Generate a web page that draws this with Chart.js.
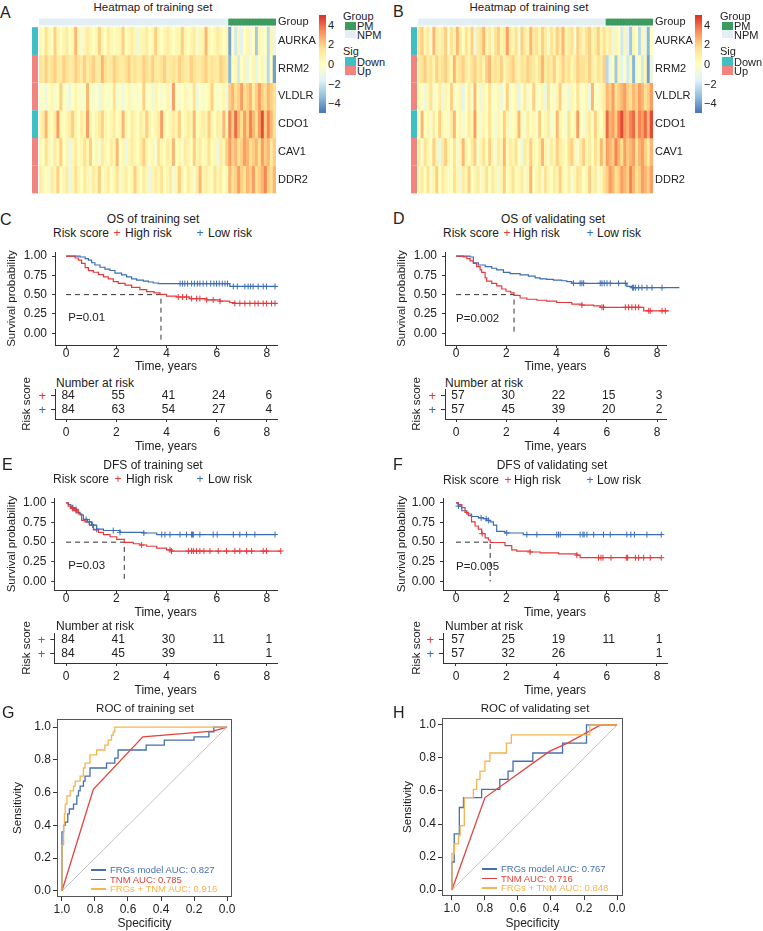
<!DOCTYPE html>
<html>
<head>
<meta charset="utf-8">
<title>Heatmaps, survival curves and ROC curves</title>
<script src="https://cdn.jsdelivr.net/npm/chart.js@4.4.1/dist/chart.umd.min.js"></script>
<style>
  body { margin: 0; background: #fff; }
  #fig { position: relative; width: 763px; height: 931px; overflow: hidden;
         font-family: 'Liberation Sans', Arial, Helvetica, sans-serif; color: #222; }
  #fig canvas { position: absolute; }
  .t { position: absolute; white-space: nowrap; font-size: 12px; line-height: 14px; }
  .sw { position: absolute; }
</style>
</head>
<body>
<div id="fig"></div>
<script>
// ---------- heatmap values: 64 NPM samples followed by 16 PM samples ----------
const genes = ['AURKA', 'RRM2', 'VLDLR', 'CDO1', 'CAV1', 'DDR2'];
const geneSig = ['Down', 'Up', 'Up', 'Down', 'Up', 'Up'];
const npmCount = 64;
const colorbarTicks = [4, 2, 0, -2, -4];

const heatA_AURKA = [.5,0,1.5,.5,0,2,.5,0, .5,1,0,.5,2.5,.5,-.5,.5, 1,.5,0,.5,2,.5,0,1, .5,0,.5,.5,2,0,.5,1,
  .5,-1,.5,.5,1,0,.5,2, .5,0,.5,1,.5,0,.5,.5, 2,.5,0,.5,1,-.5,.5,.5, 2.5,.5,0,.5,1,.5,0,.5,
  -4,0,-2,.5,-1.5,0,.5,-1, 0,-3,.5,-.5,0,-2.5,.5,-1];
const heatA_RRM2 = [1.5,1,2,1,1.5,2,1,1, 2,1.5,1,1,2,1.5,1,2, 1,1.5,2,1,1,2.5,1.5,1, 1,2,1.5,1,1,1.5,2,1,
  1.5,1,1,2,1.5,1,2,1, 1,1.5,2,1,1,1.5,1,2, 1.5,1,1,2,1.5,1,1,1.5, 2,1,1.5,1,1,2,1.5,1,
  -3.5,0,.5,-2,0,.5,-1,0, .5,-1.5,0,.5,-.5,-2.5,0,-4];
const heatA_VLDLR = [-.5,0,-1,0,.5,-.5,0,2, 0,-.5,-1,0,.5,0,-.5,0, 2.5,0,-.5,0,-1,.5,0,-.5, 0,1.5,-.5,0,-1,0,.5,-.5,
  0,-.5,0,2,-.5,0,-1,.5, 0,-.5,0,.5,-1,3,0,-.5, 0,.5,-.5,0,1.5,-1,0,-.5, 0,.5,2,0,-.5,0,.5,-1,
  2,2.5,1.5,2,3,1.5,2,2.5, 1,2,3,2,1.5,2.5,2,1.5];
const heatA_CDO1 = [.5,1,2.5,.5,0,1,3,.5, 0,.5,1,2,.5,0,1,.5, 3,.5,0,.5,1,2,.5,0, .5,1,0,.5,2.5,.5,0,1,
  .5,0,1,.5,2,.5,0,.5, 1,3,.5,0,.5,1,.5,2, 0,.5,1,.5,2.5,0,.5,1, .5,2,.5,0,1,.5,2.5,.5,
  3.5,2,4,2.5,1.5,3,2,3.5, 2.5,1.5,3,4.5,2,3.5,2.5,1.5];
const heatA_CAV1 = [.5,0,1.5,.5,-.5,1,.5,2, 0,.5,-1,.5,1,0,.5,1.5, .5,2,0,.5,-.5,1,.5,0, 1,.5,2.5,0,.5,-1,.5,1,
  .5,0,1,2,.5,0,.5,-.5, 1.5,.5,0,1,.5,2.5,0,.5, -.5,1,.5,0,2,.5,1,0, .5,1.5,0,.5,-1,1,.5,2,
  3,2,2.5,1.5,2,3,2.5,1.5, 2,2.5,1.5,3,2,2.5,1,2];
const heatA_DDR2 = [1,.5,0,-.5,1,.5,2,0, .5,1,-1,.5,1.5,.5,0,1, .5,-.5,1,.5,2,0,.5,1, 0,.5,1.5,-.5,.5,1,0,.5,
  2,.5,0,1,.5,-1,.5,1, .5,1.5,0,.5,1,-.5,.5,2, .5,0,1,.5,-.5,1,2.5,.5, 1,.5,0,1.5,.5,1,0,.5,
  2.5,1.5,2,3,2,1.5,2.5,2, 3,1.5,2,2.5,3.5,2,1.5,2.5];

const heatB_AURKA = [1.5,2,.5,1,-.5,2.5,1,.5, 1,2,-.5,1.5,.5,2.5,1,0, 1.5,.5,2,-1,1,1.5,2.5,.5, 1,-.5,1.5,2,.5,1,3,1,
  .5,1.5,-.5,2,1,.5,2.5,1, 1.5,.5,2,1,-.5,1.5,.5,2, 1,2.5,.5,1,1.5,-.5,2,1, .5,1.5,2,.5,1,2,.5,1.5,
  .5,1,-1,.5,0,-2,.5,-1.5, -3,.5,0,-2.5,.5,-1,-3.5,0];
const heatB_RRM2 = [1,1.5,2,1,1.5,.5,2,1, 1.5,2,1,.5,2.5,1,1.5,2, 1,.5,1.5,2,1,1.5,.5,2, 2.5,1,1.5,1,2,.5,1,1.5,
  2,1,.5,1.5,1,2,1.5,1, .5,1.5,2.5,1,1.5,1,2,.5, 1,2,1,1.5,.5,1,2,1.5, 1.5,1,2,1,.5,1.5,1,2,
  -2.5,-1,0,-3,.5,-1.5,0,-2, .5,-3.5,-1,0,-2,.5,-4,-1];
const heatB_VLDLR = [.5,0,-1,.5,1.5,-.5,0,1, -1,.5,0,2,-.5,0,.5,-1.5, 0,1,-.5,2.5,0,-1,.5,0, 1.5,-.5,0,.5,-1,0,2,-.5,
  0,.5,-1.5,0,1,-.5,0,2, -.5,0,.5,-1,1.5,0,-.5,.5, 2,-.5,0,-1,.5,0,1.5,-.5, 0,.5,-1,2.5,0,-.5,.5,1,
  2.5,2,3,1.5,2,2.5,3,2, 1.5,2.5,2,3,2.5,1.5,2,3];
const heatB_CDO1 = [0,2.5,0,.5,-.5,1,0,2, .5,0,-.5,1,2.5,0,.5,-.5, 0,1,.5,3,0,-.5,.5,0, 1.5,0,-.5,.5,0,2,.5,-.5,
  0,.5,2.5,0,-.5,1,0,.5, -.5,2,0,.5,1,-.5,0,2.5, .5,0,-.5,1.5,0,.5,3,0, -.5,.5,1,0,2,.5,0,1,
  4,2.5,3,2,3.5,4.5,3,2.5, 3.5,4,2,3.5,3,4,2.5,4.5];
const heatB_CAV1 = [1,-.5,1.5,.5,0,2,.5,-1, 1,2,.5,0,1.5,-.5,.5,2.5, .5,0,1,2,-.5,.5,1.5,0, 2,.5,-.5,1,.5,2.5,0,1,
  .5,1.5,0,-1,1,.5,2,.5, 0,1,2.5,.5,-.5,1,.5,2, 1,.5,0,1.5,2,.5,-.5,1, 2,.5,1,0,1.5,.5,2.5,1,
  3,2.5,2,3.5,2.5,1.5,3,2, 2.5,3,1.5,2.5,3,2,1,2.5];
const heatB_DDR2 = [.5,1,0,1.5,-.5,.5,2,0, 1,.5,-.5,0,1.5,.5,-1,1, .5,2,0,.5,1,-.5,.5,1.5, 0,1,.5,-1,.5,2,0,.5,
  1.5,0,.5,1,-.5,.5,2.5,0, .5,1,-.5,1.5,.5,0,1,.5, 2,.5,0,1,-.5,.5,1.5,1, 0,.5,2,.5,1,-.5,.5,1.5,
  2,3,2.5,1.5,2,3,2.5,2, 3.5,2.5,1.5,2,3,2.5,2,3];

// ---------- Kaplan-Meier curves: [time in years, survival probability] ----------
const timeTicks = [0, 2, 4, 6, 8];
const survTicks = [0, 0.25, 0.5, 0.75, 1];

const osTrainHigh = [[0,1],[0.36,0.975],[0.49,0.946],[0.62,0.905],[0.76,0.85],[0.89,0.81],[1.09,0.79],[1.29,0.76],
  [1.49,0.73],[1.68,0.705],[1.88,0.668],[2.08,0.647],[2.35,0.622],[2.61,0.593],[2.94,0.564],[3.21,0.539],[3.5,0.523],
  [3.74,0.502],[4.0,0.481],[4.4,0.469],[4.93,0.448],[5.6,0.432],[6.13,0.415],[6.52,0.398],[6.72,0.386],[8.38,0.386]];
const osTrainLow = [[0,1],[0.56,0.988],[0.76,0.967],[0.89,0.946],[1.02,0.913],[1.15,0.884],[1.35,0.855],[1.55,0.83],
  [1.75,0.813],[1.95,0.78],[2.21,0.755],[2.41,0.73],[2.61,0.705],[2.81,0.689],[3.08,0.676],[3.28,0.664],[3.47,0.651],
  [3.67,0.643],[6.52,0.606],[8.38,0.606]];
const osTrainHighCens = [[4.47,.469],[4.64,.469],[4.8,.469],[5.0,.448],[5.2,.448],[5.33,.448],[5.6,.432],[5.86,.432],
  [6.13,.415],[6.72,.386],[6.92,.386],[7.12,.386],[7.32,.386],[7.52,.386],[7.65,.386],[7.85,.386],[7.98,.386],[8.18,.386],[8.32,.386]];
const osTrainLowCens = [[4.54,.643],[4.64,.643],[4.73,.643],[4.84,.643],[5.0,.643],[5.11,.643],[5.23,.643],[5.33,.643],
  [5.46,.643],[5.6,.643],[5.76,.643],[5.89,.643],[5.99,.643],[6.1,.643],[6.22,.643],[6.33,.643],[6.43,.643],
  [6.66,.606],[6.82,.606],[7.12,.606],[7.25,.606],[7.35,.606],[7.45,.606],[7.65,.606],[7.85,.606],[7.98,.606],[8.32,.606]];
const osTrainRiskHigh = [84, 55, 41, 24, 6];
const osTrainRiskLow = [84, 63, 54, 27, 4];

const osValidHigh = [[0,1],[0.29,0.99],[0.43,0.967],[0.56,0.938],[0.69,0.905],[0.82,0.863],[0.96,0.822],[1.02,0.788],
  [1.16,0.718],[1.22,0.676],[1.42,0.647],[1.62,0.614],[1.82,0.573],[1.99,0.544],[2.18,0.523],[2.31,0.49],[2.55,0.456],
  [2.82,0.44],[3.22,0.427],[3.61,0.415],[4.01,0.398],[4.61,0.378],[5.01,0.365],[5.48,0.353],[5.74,0.336],[7.47,0.29],[8.47,0.29]];
const osValidLow = [[0,1],[0.56,0.988],[0.69,0.913],[0.89,0.884],[1.16,0.863],[1.42,0.842],[1.62,0.822],[1.89,0.788],
  [2.15,0.772],[2.55,0.755],[2.88,0.739],[3.15,0.718],[3.35,0.705],[3.61,0.697],[3.88,0.689],[4.21,0.68],[4.41,0.668],
  [4.61,0.647],[6.8,0.606],[7.0,0.59],[8.89,0.59]];
const osValidHighCens = [[5.01,.365],[5.81,.336],[5.87,.336],[6.74,.336],[6.87,.336],[7.0,.336],[7.14,.336],[7.27,.336],
  [7.67,.29],[7.73,.29],[8.2,.29],[8.33,.29]];
const osValidLowCens = [[4.68,.647],[4.94,.647],[5.01,.647],[5.08,.647],[5.74,.647],[5.81,.647],[5.9,.647],[6.01,.647],
  [6.14,.647],[6.47,.647],[6.74,.647],[7.03,.59],[7.07,.59],[7.14,.59],[7.27,.59],[7.4,.59],[7.6,.59],[7.8,.59],[8.2,.59],[8.89,.59]];
const osValidRiskHigh = [57, 30, 22, 15, 3];
const osValidRiskLow = [57, 45, 39, 20, 2];

const dfsTrainHigh = [[0,1],[0.09,0.96],[0.23,0.927],[0.36,0.9],[0.49,0.86],[0.62,0.778],[0.76,0.758],[0.93,0.718],
  [1.09,0.657],[1.29,0.625],[1.49,0.597],[1.75,0.569],[2.02,0.536],[2.32,0.497],[2.68,0.48],[2.94,0.464],[3.21,0.448],
  [3.61,0.423],[4.0,0.403],[4.2,0.387],[8.55,0.387]];
const dfsTrainLow = [[0,1],[0.09,0.98],[0.19,0.94],[0.32,0.919],[0.42,0.879],[0.56,0.847],[0.69,0.79],[0.85,0.758],
  [1.02,0.718],[1.22,0.665],[1.49,0.649],[2.15,0.625],[3.08,0.617],[3.61,0.597],[8.32,0.597]];
const dfsTrainHighCens = [[0.27,.927],[0.4,.9],[3.01,.464],[4.14,.403],[4.2,.387],[4.87,.387],[5.0,.387],[5.07,.387],
  [5.2,.387],[5.33,.387],[5.49,.387],[5.73,.387],[6.06,.387],[6.39,.387],[6.72,.387],[6.92,.387],[7.19,.387],[7.39,.387],
  [7.85,.387],[7.98,.387],[8.55,.387]];
const dfsTrainLowCens = [[0.27,.94],[0.4,.919],[0.8,.79],[0.93,.758],[1.06,.718],[1.22,.665],[1.88,.649],[2.15,.625],
  [3.1,.617],[3.81,.597],[3.94,.597],[4.14,.597],[4.54,.597],[4.8,.597],[5.0,.597],[5.03,.597],[5.07,.597],[5.33,.597],
  [5.86,.597],[6.02,.597],[6.66,.597],[6.92,.597],[7.19,.597],[7.52,.597],[8.32,.597]];
const dfsTrainRiskHigh = [84, 41, 30, 11, 1];
const dfsTrainRiskLow = [84, 45, 39, null, 1];

const dfsValidHigh = [[0,1],[0.09,0.98],[0.23,0.94],[0.36,0.879],[0.49,0.839],[0.62,0.758],[0.76,0.706],[0.89,0.665],
  [1.02,0.609],[1.16,0.556],[1.29,0.528],[1.36,0.496],[1.95,0.456],[2.22,0.403],[2.42,0.387],[2.95,0.375],[3.35,0.363],
  [4.08,0.351],[4.81,0.335],[4.94,0.302],[8.17,0.302]];
const dfsValidLow = [[0,1],[0.09,0.96],[0.23,0.9],[0.43,0.859],[0.62,0.827],[0.89,0.81],[1.09,0.798],[1.22,0.778],
  [1.36,0.758],[1.49,0.718],[1.62,0.637],[1.95,0.617],[2.68,0.597],[8.17,0.597]];
const dfsValidHighCens = [[1.04,.609],[2.95,.375],[4.81,.335],[5.67,.302],[5.77,.302],[5.85,.302],[6.17,.302],[6.78,.302],
  [6.83,.302],[7.14,.302],[7.27,.302],[7.47,.302],[7.73,.302],[8.17,.302]];
const dfsValidLowCens = [[0.1,.96],[1.0,.81],[1.2,.798],[1.29,.778],[2.02,.617],[2.82,.597],[3.22,.597],[4.01,.597],
  [4.08,.597],[4.15,.597],[4.94,.597],[5.05,.597],[5.1,.597],[5.21,.597],[5.48,.597],[5.87,.597],[6.14,.597],[6.8,.597],
  [6.96,.597],[7.1,.597],[7.6,.597],[8.17,.597]];
const dfsValidRiskHigh = [57, 25, 19, 11, 1];
const dfsValidRiskLow = [57, 32, 26, null, 1];

// ---------- ROC curves: [specificity, sensitivity] ----------
const rocTicks = [0, 0.2, 0.4, 0.6, 0.8, 1];
const rocDiagonal = [[1, 0], [0, 1]];
const rocTrainModel = [[1,0],[1,0.36],[0.99,0.36],[0.99,0.4],[0.98,0.4],[0.98,0.42],[0.965,0.42],[0.965,0.47],
  [0.955,0.47],[0.955,0.5],[0.93,0.5],[0.93,0.53],[0.91,0.53],[0.91,0.58],[0.9,0.58],[0.9,0.61],[0.89,0.61],[0.89,0.64],
  [0.87,0.64],[0.87,0.67],[0.86,0.67],[0.86,0.7],[0.83,0.7],[0.83,0.75],[0.73,0.75],[0.73,0.78],[0.68,0.78],[0.68,0.81],
  [0.66,0.81],[0.66,0.86],[0.49,0.86],[0.49,0.89],[0.38,0.89],[0.38,0.92],[0.2,0.92],[0.2,0.94],[0.11,0.94],[0.11,0.97],
  [0.08,0.97],[0.08,1],[0,1]];
const rocTrainTnm = [[1,0],[0.81,0.62],[0.51,0.94],[0.085,0.975],[0,1]];
const rocTrainCombo = [[1,0],[1,0.28],[0.99,0.28],[0.99,0.4],[0.985,0.4],[0.985,0.47],[0.98,0.47],[0.98,0.53],
  [0.97,0.53],[0.97,0.58],[0.95,0.58],[0.95,0.61],[0.93,0.61],[0.93,0.64],[0.92,0.64],[0.92,0.67],[0.89,0.67],[0.89,0.7],
  [0.87,0.7],[0.87,0.75],[0.86,0.75],[0.86,0.78],[0.83,0.78],[0.83,0.83],[0.79,0.83],[0.79,0.86],[0.74,0.86],[0.74,0.89],
  [0.72,0.89],[0.72,0.92],[0.7,0.92],[0.7,0.95],[0.69,0.95],[0.69,0.97],[0.68,0.97],[0.68,1],[0,1]];
const rocTrainAuc = [0.827, 0.785, 0.916];

const rocValidModel = [[1,0],[1,0.17],[0.986,0.17],[0.986,0.34],[0.955,0.34],[0.955,0.5],[0.93,0.5],[0.93,0.56],
  [0.82,0.56],[0.82,0.61],[0.71,0.61],[0.71,0.67],[0.66,0.67],[0.66,0.72],[0.63,0.72],[0.63,0.78],[0.51,0.78],[0.51,0.83],
  [0.33,0.83],[0.33,0.89],[0.185,0.89],[0.185,1],[0,1]];
const rocValidTnm = [[1,0],[0.8,0.56],[0.41,0.84],[0.3,0.89],[0.1,1],[0,1]];
const rocValidCombo = [[1,0],[1,0.22],[0.985,0.22],[0.985,0.28],[0.96,0.28],[0.96,0.33],[0.95,0.33],[0.95,0.39],
  [0.925,0.39],[0.925,0.56],[0.87,0.56],[0.87,0.61],[0.85,0.61],[0.85,0.67],[0.83,0.67],[0.83,0.72],[0.8,0.72],[0.8,0.78],
  [0.77,0.78],[0.77,0.83],[0.67,0.83],[0.67,0.89],[0.64,0.89],[0.64,0.94],[0.165,0.94],[0.165,1],[0,1]];
const rocValidAuc = [0.767, 0.716, 0.848];

// ---------- look ----------
const FONT = "'Liberation Sans', Arial, Helvetica, sans-serif";
const INK = '#222';
const AXIS = '#333';
const C_RED = '#E8383D', C_BLUE = '#3B6DB5';
const ROC_BLUE = '#4470B0', ROC_RED = '#E3433D', ROC_ORANGE = '#F6B44D';
const C_PM = '#3D9B5F', C_NPM = '#E2F0F6', C_DOWN = '#3EBFC3', C_UP = '#F1847F';
const RAMP = ['#4575B4', '#91BFDB', '#E0F3F8', '#FFFFBF', '#FEE090', '#FC8D59', '#D73027'];
const GROUP_LO = 6.07, GROUP_HI = 6.31;
const CB_TOP = 15, CB_H = 98;

Chart.defaults.font.family = FONT;
Chart.defaults.font.size = 12;
Chart.defaults.color = INK;
Chart.defaults.animation = false;
Chart.defaults.plugins.legend.display = false;
Chart.defaults.plugins.tooltip.enabled = false;

const fig = document.getElementById('fig');

function makeCanvas(left, top, width, height) {
  const c = document.createElement('canvas');
  c.width = width;
  c.height = height;
  c.style.left = left + 'px';
  c.style.top = top + 'px';
  fig.appendChild(c);
  return c;
}

// y is the vertical centre of the text line
function label(text, x, y, o = {}) {
  const d = document.createElement('div');
  d.className = 't';
  d.textContent = text;
  d.style.left = x + 'px';
  d.style.top = (y - 7) + 'px';
  if (o.size) d.style.fontSize = o.size + 'px';
  if (o.color) d.style.color = o.color;
  if (o.center) d.style.transform = 'translateX(-50%)';
  fig.appendChild(d);
}

function swatch(x, y, w, h, bg) {
  const d = document.createElement('div');
  d.className = 'sw';
  Object.assign(d.style, { left: x + 'px', top: y + 'px', width: w + 'px', height: h + 'px', background: bg });
  fig.appendChild(d);
}

function hexRgb(h) { return [1, 3, 5].map(i => parseInt(h.substr(i, 2), 16)); }

function heatColor(v) {
  const t = (Math.max(-5, Math.min(5, v)) + 5) / 10 * (RAMP.length - 1);
  const i = Math.min(RAMP.length - 2, Math.floor(t));
  const f = t - i;
  const a = hexRgb(RAMP[i]), b = hexRgb(RAMP[i + 1]);
  return 'rgb(' + a.map((c, k) => Math.round(c + (b[k] - c) * f)).join(',') + ')';
}

// ---------- heatmap panel ----------
function heatmap(rows, box, area) {
  const cv = makeCanvas(box.left, box.top, box.width, box.height);
  const n = rows.length;
  const cols = rows[0].map((_, i) => 's' + (i + 1));
  const cell = { grouped: false, barPercentage: 1, categoryPercentage: 1, borderWidth: 0 };
  const datasets = rows.map((vals, r) => Object.assign({
    data: vals.map(() => [n - 1 - r, n - r]),
    backgroundColor: vals.map(heatColor)
  }, cell));
  datasets.push(Object.assign({
    data: cols.map(() => [GROUP_LO, GROUP_HI]),
    backgroundColor: cols.map((_, i) => i < npmCount ? C_NPM : C_PM)
  }, cell));
  const rowTicks = genes.map((g, r) => n - 0.5 - r).concat([(GROUP_LO + GROUP_HI) / 2]);
  const rowNames = genes.concat(['Group']);

  new Chart(cv, {
    type: 'bar',
    data: { labels: cols, datasets },
    options: {
      responsive: false,
      layout: { padding: { left: area.l - box.left, top: area.t - box.top, bottom: box.top + box.height - area.b, right: 0 } },
      scales: {
        x: { display: false },
        y: {
          position: 'right', min: 0, max: GROUP_HI,
          grid: { display: false, drawTicks: false, tickLength: 0 },
          border: { display: false },
          afterBuildTicks: ax => { ax.ticks = rowTicks.map(v => ({ value: v })); },
          afterFit: s => { s.width = box.left + box.width - area.r; },
          ticks: { callback: (v, i) => rowNames[i], padding: 2, font: { size: 11 }, color: INK }
        }
      }
    },
    plugins: [{
      id: 'sigColumn',
      afterDatasetsDraw(chart) {
        const { ctx, chartArea, scales: { y } } = chart;
        ctx.save();
        geneSig.forEach((s, r) => {
          const top = y.getPixelForValue(n - r), bot = y.getPixelForValue(n - 1 - r);
          ctx.fillStyle = s === 'Up' ? C_UP : C_DOWN;
          ctx.fillRect(chartArea.left - 7, top, 6, bot - top);
        });
        ctx.restore();
      }
    }]
  });
}

function heatLegend(cbX, lgX, sqX, txX) {
  swatch(cbX, CB_TOP, 7, CB_H, 'linear-gradient(to bottom,' + RAMP.slice().reverse().join(',') + ')');
  colorbarTicks.forEach(v => label(v < 0 ? '\u2212' + (-v) : String(v), cbX + 9, CB_TOP + CB_H / 2 - v * CB_H / 10, { size: 11 }));
  label('Group', lgX, 16, { size: 11 });
  swatch(sqX, 22, 11, 8, C_PM);   label('PM', txX, 26, { size: 11 });
  swatch(sqX, 30, 11, 8, C_NPM);  label('NPM', txX, 35, { size: 11 });
  label('Sig', lgX, 51, { size: 11 });
  swatch(sqX, 57, 11, 9, C_DOWN); label('Down', txX, 62, { size: 11 });
  swatch(sqX, 66, 11, 9, C_UP);   label('Up', txX, 71, { size: 11 });
}

// ---------- shared x axis for survival plots and risk tables ----------
function timeAxis(p, title) {
  const b = p.box, a = p.area;
  return {
    type: 'linear', min: p.xMin, max: p.xMax,
    afterBuildTicks: ax => { ax.ticks = timeTicks.map(v => ({ value: v })); },
    afterFit: s => { s.height = b.top + b.height - a.b; },
    grid: { drawOnChartArea: false, tickLength: 3, color: AXIS },
    border: { color: AXIS },
    ticks: { padding: title ? 0 : 5, font: { size: 12, lineHeight: 1 }, color: INK },
    title: { display: true, text: 'Time, years', padding: 0, font: { size: 12 }, color: INK }
  };
}

function survivalPlot(p) {
  const b = p.box, a = p.area;
  const cv = makeCanvas(b.left, b.top, b.width, b.height);
  const xy = pts => pts.map(([x, y]) => ({ x, y }));
  const curve = (pts, color) => ({ data: xy(pts), stepped: true, borderColor: color, borderWidth: 1.2,
    pointRadius: 0, clip: false, order: 2 });
  const marks = (pts, color) => ({ data: xy(pts), showLine: false, pointStyle: 'cross', pointRadius: 3,
    pointBorderWidth: 1, pointBorderColor: color, pointBackgroundColor: color, borderColor: color, clip: false, order: 1 });

  new Chart(cv, {
    type: 'line',
    data: {
      datasets: [
        curve(p.high, C_RED), curve(p.low, C_BLUE),
        marks(p.highCens, C_RED), marks(p.lowCens, C_BLUE),
        { data: xy(p.median), borderColor: AXIS, borderWidth: 1, borderDash: [5, 4], pointRadius: 0, order: 3 }
      ]
    },
    options: {
      responsive: false,
      layout: { padding: { top: a.t - b.top, right: b.left + b.width - a.r, left: 0, bottom: 0 } },
      scales: {
        x: timeAxis(p, true),
        y: {
          min: p.yMin, max: p.yMax,
          afterBuildTicks: ax => { ax.ticks = survTicks.map(v => ({ value: v })); },
          afterFit: s => { s.width = a.l - b.left; },
          grid: { drawOnChartArea: false, tickLength: 3, color: AXIS },
          border: { color: AXIS },
          ticks: { callback: v => v.toFixed(2), padding: 5, font: { size: 12 }, color: INK },
          title: { display: true, text: 'Survival probability', padding: { top: 5, bottom: 0 }, font: { size: 11.5 }, color: INK }
        }
      }
    },
    plugins: [{
      id: 'pValue',
      afterDatasetsDraw(chart) {
        const { ctx, scales: { x, y } } = chart;
        ctx.save();
        ctx.font = '11.5px ' + FONT;
        ctx.fillStyle = INK;
        ctx.textBaseline = 'middle';
        ctx.fillText(p.pText, x.getPixelForValue(p.pAt[0]), y.getPixelForValue(p.pAt[1]));
        ctx.restore();
      }
    }]
  });
}

function riskTable(p) {
  const b = p.box, a = p.area;
  const cv = makeCanvas(b.left, b.top, b.width, b.height);
  new Chart(cv, {
    type: 'scatter',
    data: { datasets: [] },
    options: {
      responsive: false,
      layout: { padding: { top: a.t - b.top, right: b.left + b.width - a.r, left: 0, bottom: 0 } },
      scales: {
        x: timeAxis(p, false),
        y: {
          min: 0.357, max: 2.5,
          afterBuildTicks: ax => { ax.ticks = [{ value: 1 }, { value: 2 }]; },
          afterFit: s => { s.width = a.l - b.left; },
          grid: { drawOnChartArea: false, tickLength: 4, color: AXIS },
          border: { color: AXIS },
          // tick 0 is the low-risk row (value 1), tick 1 the high-risk row (value 2)
          ticks: { callback: () => '+', padding: 5, font: { size: 13 }, color: [C_BLUE, C_RED] },
          title: { display: true, text: 'Risk score', padding: { top: 20, bottom: 0 }, font: { size: 11.5 }, color: INK }
        }
      }
    },
    plugins: [{
      id: 'riskNumbers',
      afterDraw(chart) {
        const { ctx, scales: { x, y } } = chart;
        ctx.save();
        ctx.font = '12px ' + FONT;
        ctx.fillStyle = INK;
        ctx.textAlign = 'center';
        ctx.textBaseline = 'middle';
        [[p.high, 2], [p.low, 1]].forEach(([row, lvl]) => row.forEach((n, i) => {
          if (n !== null) ctx.fillText(String(n), x.getPixelForValue(timeTicks[i]) + 2, y.getPixelForValue(lvl));
        }));
        ctx.restore();
      }
    }]
  });
}

function rocPlot(p) {
  const b = p.box, a = p.area;
  const cv = makeCanvas(b.left, b.top, b.width, b.height);
  const line = (pts, color, order, w) => ({ data: pts.map(([x, y]) => ({ x, y })), borderColor: color,
    borderWidth: w || 1.3, pointRadius: 0, order });
  new Chart(cv, {
    type: 'line',
    data: {
      datasets: [
        line(p.combo, ROC_ORANGE, 1), line(p.tnm, ROC_RED, 2), line(p.model, ROC_BLUE, 3),
        line(rocDiagonal, '#c4c4c4', 4, 1)
      ]
    },
    options: {
      responsive: false,
      layout: { padding: { top: a.t - b.top, right: b.left + b.width - a.r, left: 0, bottom: 0 } },
      scales: {
        x: {
          type: 'linear', reverse: true, min: p.xMin, max: p.xMax,
          afterBuildTicks: ax => { ax.ticks = rocTicks.map(v => ({ value: v })); },
          afterFit: s => { s.height = b.top + b.height - a.b; },
          grid: { drawOnChartArea: false, tickLength: 4, color: AXIS },
          border: { display: false },
          ticks: { callback: v => v.toFixed(1), padding: 3, font: { size: 12, lineHeight: 1 }, color: INK },
          title: { display: true, text: 'Specificity', padding: 0, font: { size: 12 }, color: INK }
        },
        y: {
          min: p.yMin, max: p.yMax,
          afterBuildTicks: ax => { ax.ticks = rocTicks.map(v => ({ value: v })); },
          afterFit: s => { s.width = a.l - b.left; },
          grid: { drawOnChartArea: false, tickLength: 4, color: AXIS },
          border: { display: false },
          ticks: { callback: v => v.toFixed(1), padding: 2, font: { size: 12 }, color: INK },
          title: { display: true, text: 'Sensitivity', padding: { top: p.yTitlePad, bottom: 0 }, font: { size: 11.5 }, color: INK }
        }
      }
    },
    plugins: [{
      id: 'frame',
      beforeDatasetsDraw(chart) {
        const { ctx, chartArea: c } = chart;
        ctx.save();
        ctx.strokeStyle = '#555';
        ctx.lineWidth = 1;
        ctx.strokeRect(c.left + 0.5, c.top + 0.5, c.width - 1, c.height - 1);
        ctx.restore();
      }
    }]
  });
  const names = ['FRGs model AUC: ', 'TNM AUC: ', 'FRGs + TNM AUC: '];
  const colors = [ROC_BLUE, ROC_RED, ROC_ORANGE];
  names.forEach((nm, i) => {
    const y = p.legendY + i * 9.5;
    swatch(p.legendX, y - 0.75, 15, 1.5, colors[i]);
    label(nm + p.auc[i].toFixed(3), p.legendX + 19, y, { size: 9.5, color: colors[i] });
  });
}

// ---------- A / B ----------
label('A', 0, 12.5, { size: 16 });
label('Heatmap of training set', 153, 7, { size: 11.5, center: true });
heatmap([heatA_AURKA, heatA_RRM2, heatA_VLDLR, heatA_CDO1, heatA_CAV1, heatA_DDR2],
  { left: 28, top: 10, width: 290, height: 192 }, { l: 39, t: 16, r: 276, b: 199 });
heatLegend(319, 343, 345, 357);

label('B', 393, 11.5, { size: 16 });
label('Heatmap of training set', 529, 7, { size: 11.5, center: true });
heatmap([heatB_AURKA, heatB_RRM2, heatB_VLDLR, heatB_CDO1, heatB_CAV1, heatB_DDR2],
  { left: 406, top: 10, width: 290, height: 192 }, { l: 418, t: 16, r: 653, b: 199 });
heatLegend(695, 720, 722, 734);

// ---------- C / D / E / F ----------
function kmHeader(letter, lx, ly, title, tx, ty, legendY, xs) {
  label(letter, lx, ly, { size: 16 });
  label(title, tx, ty, { center: true });
  label('Risk score', xs[0], legendY);
  label('+', xs[1], legendY, { color: C_RED, center: true });
  label('High risk', xs[2], legendY);
  label('+', xs[3], legendY, { color: C_BLUE, center: true });
  label('Low risk', xs[4], legendY);
}

kmHeader('C', 0, 220, 'OS of training set', 153, 219, 233, [53, 117, 125, 200, 208]);
survivalPlot({ box: { left: 0, top: 240, width: 292, height: 134 }, area: { l: 55, t: 248.3, r: 277, b: 345 },
  xMin: -0.44, xMax: 8.4, yMin: -0.153, yMax: 1.05,
  high: osTrainHigh, low: osTrainLow, highCens: osTrainHighCens, lowCens: osTrainLowCens,
  median: [[0, 0.5], [3.78, 0.5], [3.78, -0.1]], pText: 'P=0.01', pAt: [0.09, 0.195] });
label('Number at risk', 56, 383);
riskTable({ box: { left: 0, top: 370, width: 292, height: 84 }, area: { l: 55, t: 389, r: 277, b: 419 },
  xMin: -0.44, xMax: 8.4, high: osTrainRiskHigh, low: osTrainRiskLow });

kmHeader('D', 393, 219, 'OS of validating set', 553, 219, 233, [443, 507, 513, 590, 597]);
survivalPlot({ box: { left: 390, top: 240, width: 300, height: 134 }, area: { l: 445, t: 248.3, r: 666, b: 345 },
  xMin: -0.438, xMax: 8.358, yMin: -0.153, yMax: 1.05,
  high: osValidHigh, low: osValidLow, highCens: osValidHighCens, lowCens: osValidLowCens,
  median: [[0, 0.5], [2.31, 0.5], [2.31, 0]], pText: 'P=0.002', pAt: [0, 0.18] });
label('Number at risk', 445, 383);
riskTable({ box: { left: 390, top: 370, width: 300, height: 84 }, area: { l: 445, t: 389, r: 666, b: 419 },
  xMin: -0.438, xMax: 8.358, high: osValidRiskHigh, low: osValidRiskLow });

kmHeader('E', 2, 465, 'DFS of training set', 153, 465, 479, [53, 118, 126, 200, 208]);
survivalPlot({ box: { left: 0, top: 486, width: 292, height: 134 }, area: { l: 54.3, t: 493.3, r: 277, b: 590 },
  xMin: -0.466, xMax: 8.4, yMin: -0.109, yMax: 1.06,
  high: dfsTrainHigh, low: dfsTrainLow, highCens: dfsTrainHighCens, lowCens: dfsTrainLowCens,
  median: [[0, 0.5], [2.32, 0.5], [2.32, 0]], pText: 'P=0.03', pAt: [0.09, 0.2] });
label('Number at risk', 56, 626);
riskTable({ box: { left: 0, top: 614, width: 292, height: 84 }, area: { l: 54.3, t: 633, r: 277, b: 663 },
  xMin: -0.466, xMax: 8.4, high: dfsTrainRiskHigh, low: dfsTrainRiskLow });

kmHeader('F', 393, 465, 'DFS of validating set', 552, 465, 480, [443, 508, 514, 590, 597]);
survivalPlot({ box: { left: 390, top: 486, width: 300, height: 134 }, area: { l: 443, t: 493.3, r: 667, b: 590 },
  xMin: -0.517, xMax: 8.398, yMin: -0.109, yMax: 1.06,
  high: dfsValidHigh, low: dfsValidLow, highCens: dfsValidHighCens, lowCens: dfsValidLowCens,
  median: [[0, 0.5], [1.36, 0.5], [1.36, 0]], pText: 'P=0.005', pAt: [0, 0.19] });
label('Number at risk', 445, 626);
riskTable({ box: { left: 390, top: 614, width: 300, height: 84 }, area: { l: 443, t: 633, r: 667, b: 663 },
  xMin: -0.517, xMax: 8.398, high: dfsValidRiskHigh, low: dfsValidRiskLow });

// ---------- G / H ----------
label('G', 2, 713, { size: 16 });
label('ROC of training set', 145, 708, { size: 11.5, center: true });
rocPlot({ box: { left: 0, top: 698, width: 245, height: 233 }, area: { l: 57, t: 719, r: 232, b: 897 },
  xMin: -0.03, xMax: 1.03, yMin: -0.037, yMax: 1.049, yTitlePad: 10.8,
  model: rocTrainModel, tnm: rocTrainTnm, combo: rocTrainCombo, auc: rocTrainAuc, legendX: 91, legendY: 870 });

label('H', 393, 713, { size: 16 });
label('ROC of validating set', 535, 708, { size: 11.5, center: true });
rocPlot({ box: { left: 380, top: 698, width: 255, height: 233 }, area: { l: 442, t: 718, r: 623, b: 896 },
  xMin: -0.036, xMax: 1.06, yMin: -0.036, yMax: 1.042, yTitlePad: 20.8,
  model: rocValidModel, tnm: rocValidTnm, combo: rocValidCombo, auc: rocValidAuc, legendX: 482, legendY: 869 });
</script>
</body>
</html>
